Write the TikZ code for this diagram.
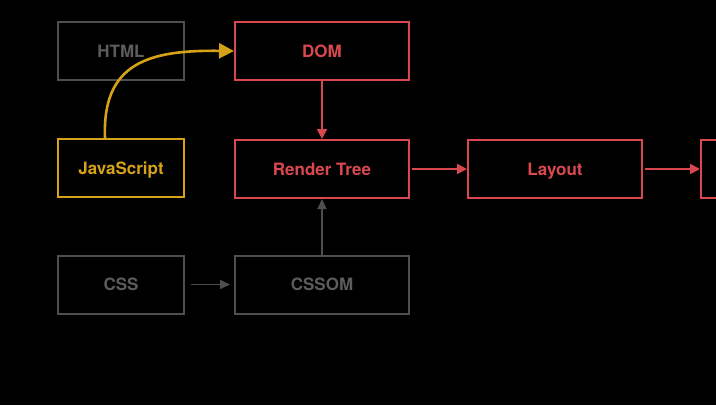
\documentclass[tikz,border=0pt]{standalone}
\usepackage{fontspec}
\setmainfont{TeX Gyre Heros}
\usetikzlibrary{arrows.meta}
\definecolor{stepred}{RGB}{217,72,78}
\definecolor{stepyellow}{RGB}{214,162,24}
\definecolor{stepgray}{RGB}{78,78,78}
\definecolor{textgray}{RGB}{92,92,92}

\begin{document}
\begin{tikzpicture}[x=1pt,y=-1pt,line width=1.8pt]
    \tikzstyle{stage}=[rectangle,draw,line width=2pt,minimum height=58pt,inner sep=0pt,text height=12pt,text depth=0pt,font=\fontsize{17}{20}\selectfont\bfseries]
    \tikzstyle{source stage}=[stage, draw=stepgray, text=textgray, minimum width=126pt]
    \tikzstyle{script stage}=[stage, draw=stepyellow, text=stepyellow, minimum width=126pt]
    \tikzstyle{tree stage}=[stage, draw=stepred, text=stepred, minimum width=174pt]
    \tikzstyle{red flow}=[draw=stepred, -{Triangle[length=10pt,width=10pt]}]
    \tikzstyle{gray flow}=[draw=stepgray, -{Triangle[length=10pt,width=9pt]}]

    % Background and clipping of the page
    \fill[black] (0,0) rectangle (716,405);
    \clip (0,0) rectangle (716,405);

    % Draw the source nodes
    \node[source stage] (html) at (121,51) {HTML};
    \node[script stage] (js) at (121,168) {JavaScript};
    \node[source stage] (css) at (121,284.5) {CSS};

    % Draw the object models and the rendering steps
    \node[tree stage] (dom) at (322,51) {DOM};
    \node[tree stage] (render) at (322,169) {Render Tree};
    \node[tree stage] (layout) at (555,169) {Layout};
    \node[tree stage] (paint) at (788,169) {};
    \node[source stage, minimum width=174pt] (cssom) at (322,284.5) {CSSOM};

    % Connect the rendering steps
    \path[red flow] (dom) -- (render);
    \foreach \source/\dest in {render/layout,layout/paint}
        \path[red flow, shorten <=2pt] (\source) -- (\dest);

    % CSS side
    \path[gray flow, shorten <=6pt, shorten >=4pt] (css) -- (cssom);
    \path[gray flow] (cssom) -- (render);

    % JavaScript changes the DOM
    \draw[stepyellow, line width=2.6pt, -{Triangle[length=15pt,width=15pt]}]
        (js.north -| 105,0) .. controls (102,62) and (150,50) .. (dom.west);
\end{tikzpicture}
\end{document}
